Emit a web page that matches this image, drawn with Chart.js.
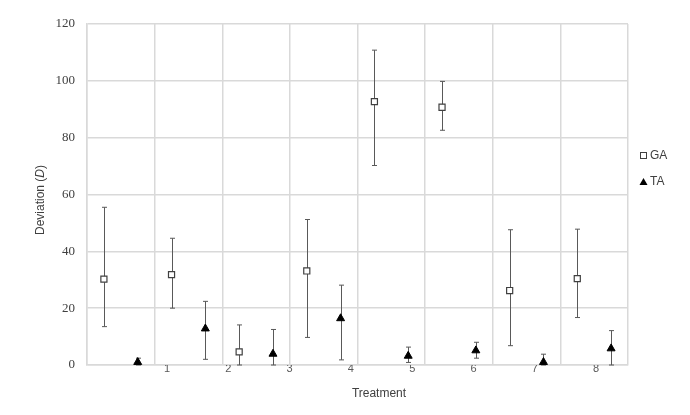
<!DOCTYPE html>
<html>
<head>
<meta charset="utf-8">
<script src="https://cdn.jsdelivr.net/npm/chart.js@4.4.0/dist/chart.umd.min.js"></script>
<style>
  html, body { margin: 0; padding: 0; background: #fff; }
  #wrap { width: 690px; height: 415px; }
</style>
</head>
<body>
<div id="wrap"><canvas id="chart"></canvas></div>
<script>
// datos
const treatments = [1, 2, 3, 4, 5, 6, 7, 8];
const gaValues = [30.2, 31.8, 4.6, 33.1, 92.7, 90.7, 26.2, 30.4];
const gaHigh   = [55.5, 44.6, 14.1, 51.2, 110.8, 99.8, 47.6, 47.8];
const gaLow    = [13.5, 20.0, 0, 9.7, 70.2, 82.6, 6.8, 16.7];
const taValues = [1.0, 12.8, 3.9, 16.4, 3.2, 5.1, 1.0, 5.8];
const taHigh   = [2.4, 22.4, 12.5, 28.1, 6.3, 8.0, 3.8, 12.1];
const taLow    = [0, 2.0, 0, 1.8, 0.9, 2.4, 0, 0];
const yTicks = [0, 20, 40, 60, 80, 100, 120];

const gridColor = "#d9d9d9";
const textColor = "#404040";
const sans = "'Liberation Sans', Arial, sans-serif";

// cada tratamiento ocupa una celda: GA a 1/4, TA a 3/4
const gaPoints = gaValues.map((v, i) => ({ x: i + 0.25, y: v }));
const taPoints = taValues.map((v, i) => ({ x: i + 0.75, y: v }));

// barras de error bajo los marcadores
const errorBars = {
  id: "errorBars",
  beforeDatasetsDraw(chart) {
    const { ctx, scales: { x, y } } = chart;
    ctx.save();
    ctx.strokeStyle = "#595959";
    ctx.lineWidth = 1;
    const draw = (pts, lo, hi) => pts.forEach((p, i) => {
      const px = Math.round(x.getPixelForValue(p.x)) + 0.5;
      const top = y.getPixelForValue(hi[i]);
      const bot = y.getPixelForValue(lo[i]);
      ctx.beginPath();
      ctx.moveTo(px, top); ctx.lineTo(px, bot);
      ctx.moveTo(px - 2.5, top); ctx.lineTo(px + 2.5, top);
      ctx.moveTo(px - 2.5, bot); ctx.lineTo(px + 2.5, bot);
      ctx.stroke();
    });
    draw(gaPoints, gaLow, gaHigh);
    draw(taPoints, taLow, taHigh);
    ctx.restore();
  }
};

// títulos de ejes y leyenda
const extras = {
  id: "extras",
  afterDraw(chart) {
    const ctx = chart.ctx;
    ctx.save();
    ctx.fillStyle = textColor;
    ctx.textBaseline = "middle";

    // título eje X
    ctx.font = "12px " + sans;
    ctx.textAlign = "center";
    ctx.fillText("Treatment", 379, 394);

    // título eje Y con D en cursiva
    ctx.translate(41, 200);
    ctx.rotate(-Math.PI / 2);
    const parts = [["Deviation (", "12px " + sans], ["D", "italic 12px " + sans], [")", "12px " + sans]];
    let total = 0;
    parts.forEach(p => { ctx.font = p[1]; total += ctx.measureText(p[0]).width; });
    let cx = -total / 2;
    ctx.textAlign = "left";
    parts.forEach(p => { ctx.font = p[1]; ctx.fillText(p[0], cx, 0); cx += ctx.measureText(p[0]).width; });
    ctx.setTransform(1, 0, 0, 1, 0, 0);
    ctx.restore();

    // leyenda
    ctx.save();
    const dpr = chart.currentDevicePixelRatio;
    ctx.setTransform(dpr, 0, 0, dpr, 0, 0);
    ctx.font = "12px " + sans;
    ctx.fillStyle = textColor;
    ctx.textBaseline = "middle";
    ctx.textAlign = "left";
    ctx.strokeStyle = textColor;
    ctx.lineWidth = 1;
    ctx.fillStyle = "#fff";
    ctx.fillRect(640.5, 152.5, 6, 6);
    ctx.strokeRect(640.5, 152.5, 6, 6);
    ctx.fillStyle = "#000";
    ctx.beginPath();
    ctx.moveTo(643.5, 178); ctx.lineTo(647.5, 185); ctx.lineTo(639.5, 185);
    ctx.closePath(); ctx.fill();
    ctx.fillStyle = textColor;
    ctx.fillText("GA", 650, 156);
    ctx.fillText("TA", 650, 182);
    ctx.restore();
  }
};

new Chart(document.getElementById("chart"), {
  type: "scatter",
  data: {
    datasets: [
      {
        label: "GA",
        data: gaPoints,
        pointStyle: "rect",
        pointRadius: 4.3,
        pointHoverRadius: 4.3,
        backgroundColor: "#fff",
        borderColor: "#404040",
        borderWidth: 1.2
      },
      {
        label: "TA",
        data: taPoints,
        pointStyle: "triangle",
        pointRadius: 4.6,
        pointHoverRadius: 4.6,
        backgroundColor: "#000",
        borderColor: "#000",
        borderWidth: 1
      }
    ]
  },
  options: {
    responsive: true,
    maintainAspectRatio: false,
    animation: false,
    layout: { padding: { top: 24, right: 62, left: 0, bottom: 0 } },
    plugins: { legend: { display: false }, tooltip: { enabled: false } },
    scales: {
      x: {
        type: "linear",
        position: "bottom",
        min: 0,
        max: treatments.length,
        ticks: { display: false, stepSize: 1 },
        grid: { color: gridColor, lineWidth: 1.5, drawTicks: false },
        border: { color: gridColor, width: 1.5 },
        afterFit: s => { s.height = 0; }
      },
      xl: {
        type: "linear",
        position: "bottom",
        min: -0.305,
        max: 8.52,
        afterBuildTicks: s => { s.ticks = treatments.map(v => ({ value: v })); },
        ticks: { color: "#595959", font: { family: sans, size: 11 }, padding: -3, autoSkip: false, maxRotation: 0 },
        grid: { display: false, drawTicks: false },
        border: { display: false },
        afterFit: s => { s.height = 50; }
      },
      y: {
        min: 0,
        max: 120,
        afterBuildTicks: s => { s.ticks = yTicks.map(v => ({ value: v })); },
        ticks: { color: textColor, font: { family: "'Liberation Serif', 'Times New Roman', serif", size: 13 }, padding: 12 },
        grid: { color: gridColor, lineWidth: 1.5, drawTicks: false },
        border: { color: gridColor, width: 1.5 },
        afterFit: s => { s.width = 87; }
      }
    }
  },
  plugins: [errorBars, extras]
});
</script>
</body>
</html>
